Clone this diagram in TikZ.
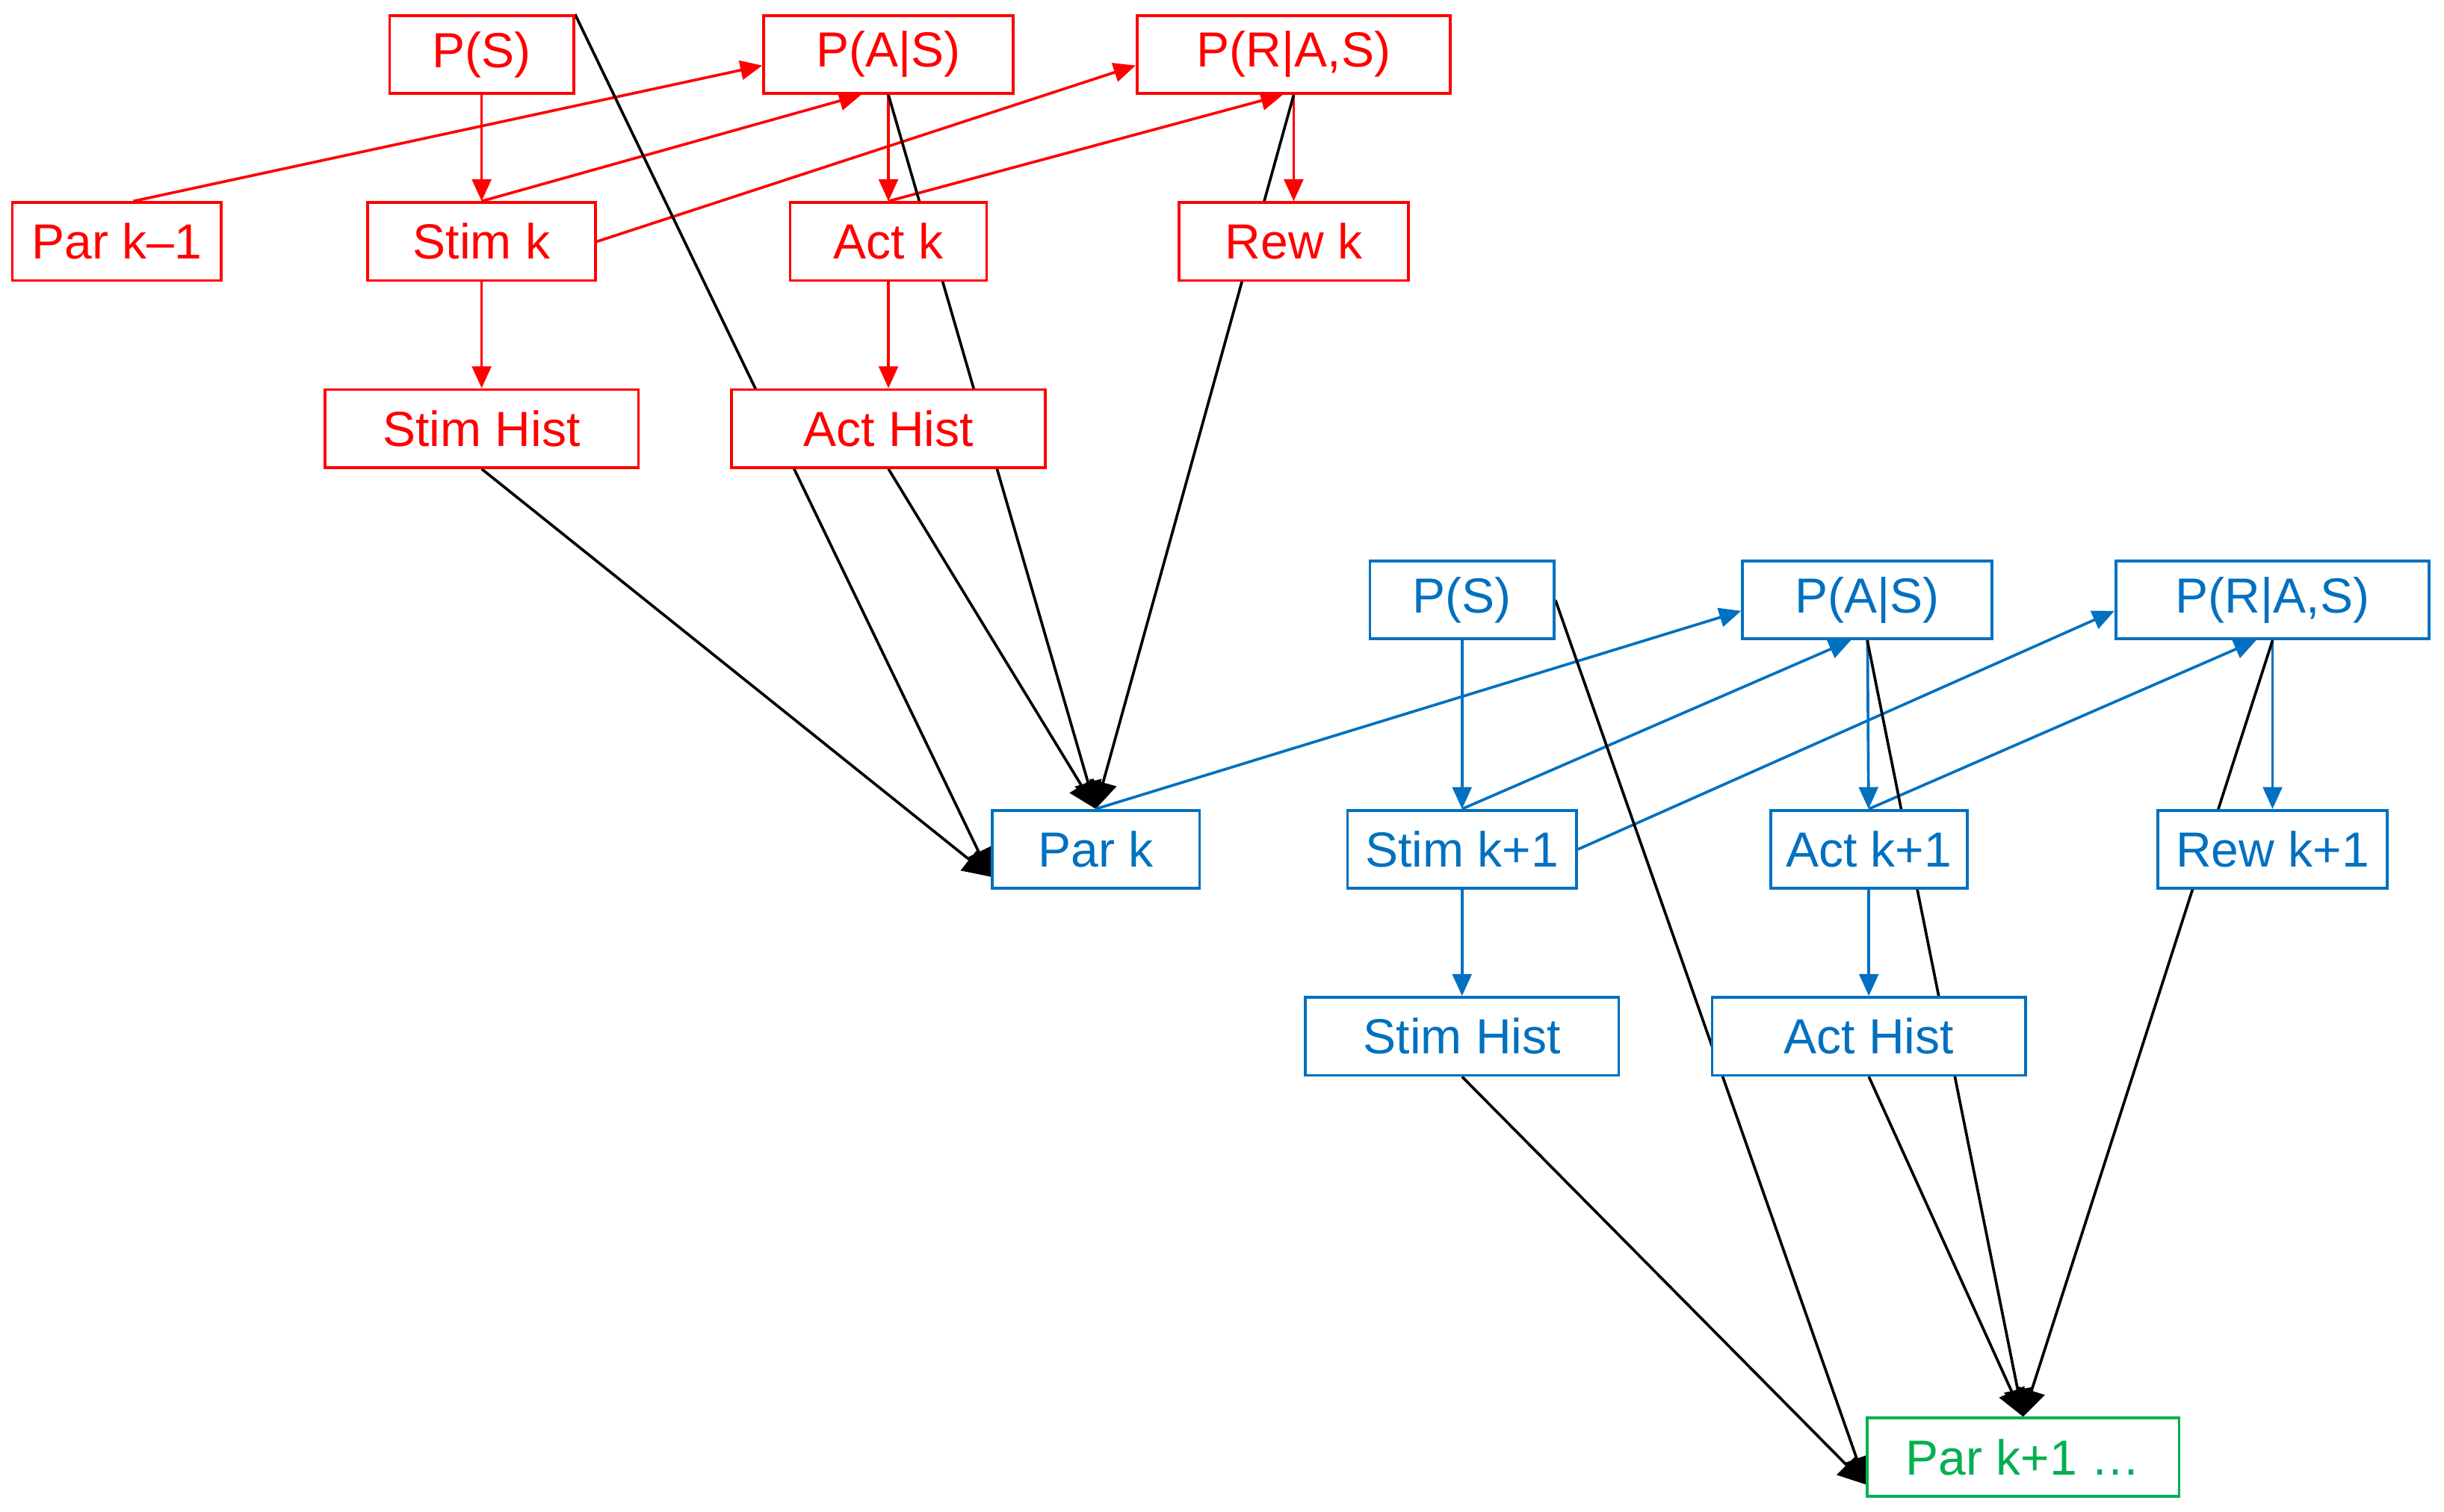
\documentclass[tikz,border=0pt]{standalone}
\usepackage{fontspec}
\setmainfont{Liberation Sans}
\usetikzlibrary{arrows.meta}
\definecolor{rd}{RGB}{255,0,0}
\definecolor{bl}{RGB}{0,112,192}
\definecolor{gr}{RGB}{0,176,80}
\pgfdeclarelayer{bg}\pgfsetlayers{bg,main}
\begin{document}
\begin{tikzpicture}[x=0.01cm,y=-0.01cm,
 bx/.style={draw,fill=white,minimum height=0.5cm,inner sep=0pt,font=\fontsize{9}{10}\selectfont,line width=0.5pt},
 r/.style={bx,draw=rd,text=rd},
 b/.style={bx,draw=bl,text=bl},
 g/.style={bx,draw=gr,text=gr},
 ra/.style={draw=rd,line width=0.5pt,-{Triangle[length=4pt,width=3.5pt]},rd},
 ba/.style={draw=bl,line width=0.5pt,-{Triangle[length=4pt,width=3.5pt]},bl},
 ka/.style={draw=black,line width=0.5pt,-{Triangle[length=5pt,width=5pt]}}]
\useasboundingbox (0,0) rectangle (1568,970);
% red
\node[r,minimum width=1.18cm] (rps) at (309,35) {P(S)};
\node[r,minimum width=1.6cm] (ras) at (570,35) {P(A|S)};
\node[r,minimum width=2.01cm] (rras) at (830,35) {P(R|A,S)};
\node[r,minimum width=1.34cm] (park1) at (75,155) {Par k–1};
\node[r,minimum width=1.46cm] (rstim) at (309,155) {Stim k};
\node[r,minimum width=1.26cm] (ract) at (570,155) {Act k};
\node[r,minimum width=1.47cm] (rrew) at (830,155) {Rew k};
\node[r,minimum width=2.01cm] (rsh) at (309,275) {Stim Hist};
\node[r,minimum width=2.01cm] (rah) at (570,275) {Act Hist};
% blue
\node[b,minimum width=1.33cm] (park) at (703,545) {Par k};
\node[b,minimum width=1.18cm] (bps) at (938,385) {P(S)};
\node[b,minimum width=1.6cm] (bas) at (1198,385) {P(A|S)};
\node[b,minimum width=2.01cm] (bras) at (1458,385) {P(R|A,S)};
\node[b,minimum width=1.47cm] (bstim) at (938,545) {Stim k+1};
\node[b,minimum width=1.26cm] (bact) at (1199,545) {Act k+1};
\node[b,minimum width=1.47cm] (brew) at (1458,545) {Rew k+1};
\node[b,minimum width=2.01cm] (bsh) at (938,665) {Stim Hist};
\node[b,minimum width=2.01cm] (bah) at (1199,665) {Act Hist};
\node[g,minimum width=2.0cm] (park2) at (1298,935) {Par k+1 …};
\begin{pgfonlayer}{bg}
\draw[ra] (rps) -- (rstim);
\draw[ra] (rstim) -- (rsh);
\draw[ra] (ras) -- (ract);
\draw[ra] (ract) -- (rah);
\draw[ra] (rras) -- (rrew);
\draw[ra] ([xshift=3]park1.north) -- ([yshift=-2]ras.west);
\draw[ra] (rstim.north) -- ([xshift=-5]ras.south);
\draw[ra] (rstim.east) -- ([yshift=-2]rras.west);
\draw[ra] (ract.north) -- ([xshift=-2]rras.south);
\draw[ka] (rps.north east) -- ([yshift=-5]park.west);
\draw[ka] (rsh.south) -- ([yshift=-5]park.west);
\draw[ka] (rah.south) -- (park.north);
\draw[ka] (ras.south) -- (park.north);
\draw[ka] (rras.south) -- (park.north);
\draw[ba] (park.north) -- ([yshift=-2]bas.west);
\draw[ba] (bps) -- (bstim);
\draw[ba] (bstim) -- (bsh);
\draw[ba] (bas) -- (bact);
\draw[ba] (bact) -- (bah);
\draw[ba] (bras) -- (brew);
\draw[ba] (bstim.north) -- ([xshift=-3]bas.south);
\draw[ba] (bstim.east) -- ([yshift=-2]bras.west);
\draw[ba] (bact.north) -- ([xshift=-3]bras.south);
\draw[ka] (bps.east) -- ([yshift=-5]park2.west);
\draw[ka] (bsh.south) -- ([yshift=-5]park2.west);
\draw[ka] (bas.south) -- (park2.north);
\draw[ka] (bah.south) -- (park2.north);
\draw[ka] (bras.south) -- (park2.north);
\end{pgfonlayer}
\end{tikzpicture}
\end{document}
